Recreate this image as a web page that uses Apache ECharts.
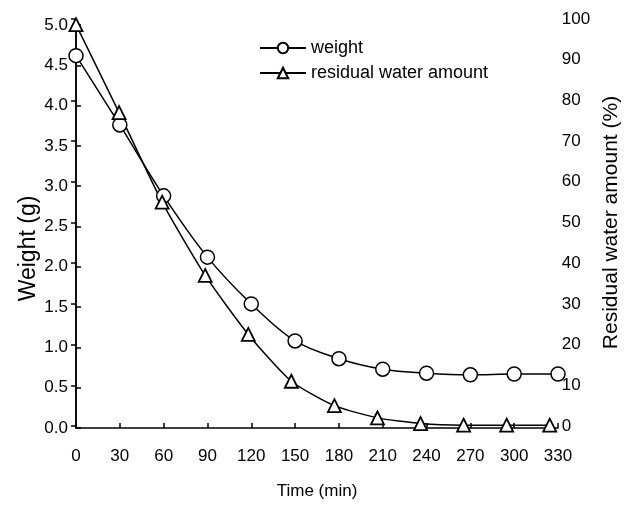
<!DOCTYPE html>
<html>
<head>
<meta charset="utf-8">
<script src="https://cdn.jsdelivr.net/npm/echarts@6/dist/echarts.min.js"></script>
<style>
  html, body { margin: 0; padding: 0; background: #fff; }
  #mychart { width: 630px; height: 505px; }
</style>
</head>
<body>
<div id="mychart"></div>
<script>
  // data
  const times = [0, 30, 60, 90, 120, 150, 180, 210, 240, 270, 300, 330]
  const weight = [4.62, 3.76, 2.88, 2.12, 1.54, 1.08, 0.86, 0.73, 0.68, 0.66, 0.67, 0.67]
  const residual = [98.6, 77, 55, 37, 22.5, 11, 5, 2, 0.6, 0.2, 0.2, 0.2]

  const weightTicks = [0, 0.5, 1.0, 1.5, 2.0, 2.5, 3.0, 3.5, 4.0, 4.5, 5.0]
  const residualTicks = [0, 10, 20, 30, 40, 50, 60, 70, 80, 90, 100]

  const font = 'Liberation Sans'
  const black = '#000'

  const mychartDom = document.getElementById('mychart')
  const myChart = echarts.init(mychartDom)

  const axisLine = { show: true, lineStyle: { color: black, width: 1.5 } }
  const tick = { inside: true, length: 5, lineStyle: { color: black, width: 1.5 } }

  const option = {
      animation: false,
      textStyle: { fontFamily: font, color: black },
      grid: [
          { left: 76, right: 72, top: 25, bottom: 75 },
          // right axis sits a few px higher in the original
          { left: 76, right: 72, top: 19, bottom: 79 }
      ],
      legend: {
          orient: 'vertical',
          left: 254,
          top: 34,
          itemGap: 7,
          itemWidth: 46,
          itemHeight: 13,
          textStyle: { fontFamily: font, fontSize: 18, color: black },
          data: ['weight', 'residual water amount']
      },
      xAxis: [{
              gridIndex: 0,
              type: 'value',
              min: 0,
              max: 330,
              interval: 30,
              name: 'Time (min)',
              nameLocation: 'middle',
              nameGap: 55,
              nameTextStyle: { fontFamily: font, fontSize: 17, color: black },
              axisLine: axisLine,
              axisTick: tick,
              axisLabel: { fontSize: 17, color: black, margin: 20 },
              splitLine: { show: false }
          },
          {
              gridIndex: 1,
              type: 'value',
              min: 0,
              max: 330,
              show: false
          }
      ],
      yAxis: [{
              gridIndex: 0,
              type: 'value',
              position: 'left',
              min: weightTicks[0],
              max: weightTicks[weightTicks.length - 1],
              interval: 0.5,
              name: 'Weight (g)',
              nameLocation: 'middle',
              nameGap: 36,
              nameMoveOverlap: false,
              // the title sits lower than the middle of the axis
              nameTextStyle: { fontFamily: font, fontSize: 23, color: black, padding: [0, 44, 0, 0] },
              axisLine: axisLine,
              axisTick: tick,
              axisLabel: { fontSize: 17, color: black, margin: 8, formatter: v => v.toFixed(1) },
              splitLine: { show: false }
          },
          {
              gridIndex: 1,
              type: 'value',
              position: 'right',
              min: residualTicks[0],
              max: residualTicks[residualTicks.length - 1],
              interval: 10,
              name: 'Residual water amount (%)',
              nameLocation: 'middle',
              nameGap: 45,
              nameRotate: 90,
              nameTextStyle: { fontFamily: font, fontSize: 21, color: black },
              axisLine: axisLine,
              axisTick: tick,
              axisLabel: { fontSize: 17, color: black, margin: 12 },
              splitLine: { show: false }
          }
      ],
      series: [{
              name: 'weight',
              type: 'line',
              xAxisIndex: 0,
              yAxisIndex: 0,
              smooth: 0.35,
              symbol: 'circle',
              symbolSize: 14,
              lineStyle: { color: black, width: 1.5 },
              itemStyle: { color: '#fff', borderColor: black, borderWidth: 1.5 },
              data: times.map((t, i) => [t, weight[i]])
          },
          {
              name: 'residual water amount',
              type: 'line',
              xAxisIndex: 1,
              yAxisIndex: 1,
              smooth: 0.2,
              symbol: 'triangle',
              symbolSize: 13,
              lineStyle: { color: black, width: 1.5 },
              itemStyle: { color: '#fff', borderColor: black, borderWidth: 1.8 },
              data: times.map((t, i) => [t, residual[i]])
          }
      ]
  }

  myChart.setOption(option)
</script>
</body>
</html>
